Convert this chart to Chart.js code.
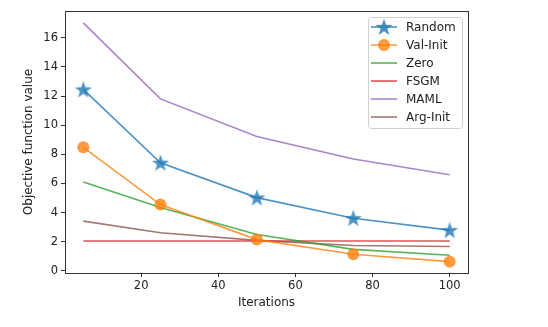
<!DOCTYPE html>
<html>
<head>
<meta charset="utf-8">
<script src="https://cdn.jsdelivr.net/npm/chart.js@4"></script>
<style>
  html, body { margin: 0; padding: 0; background: #fff; }
  #wrap { width: 548px; height: 327px; position: relative; }
</style>
</head>
<body>
<div id="wrap"><canvas id="chart"></canvas></div>
<script>
const iterations = [5, 25, 50, 75, 100];
const randomVals  = [12.45, 7.42, 5.03, 3.62, 2.8];
const valInitVals = [8.48, 4.55, 2.15, 1.15, 0.64];
const zeroVals    = [6.1, 4.35, 2.5, 1.48, 1.08];
const fsgmVals    = [2.05, 2.05, 2.05, 2.05, 2.05];
const mamlVals    = [17.02, 11.8, 9.22, 7.68, 6.6];
const argInitVals = [3.42, 2.62, 2.1, 1.75, 1.68];
const xTicks = [20, 40, 60, 80, 100];
const yTicks = [0, 2, 4, 6, 8, 10, 12, 14, 16];

const C = {
  blue:   'rgba(31,119,180,0.8)',
  orange: 'rgba(255,127,14,0.8)',
  green:  'rgba(44,160,44,0.8)',
  red:    'rgba(214,39,40,0.8)',
  purple: 'rgba(148,103,189,0.8)',
  brown:  'rgba(140,86,75,0.8)'
};

/* filled five-point star, like matplotlib's '*' */
function makeStar(r, color){
  const c = document.createElement('canvas');
  const s = Math.ceil(r * 2 + 2);
  c.width = s; c.height = s;
  const g = c.getContext('2d');
  g.beginPath();
  for (let i = 0; i < 10; i++){
    const rad = i % 2 ? r * 0.4 : r;
    const a = -Math.PI / 2 + i * Math.PI / 5;
    const px = s / 2 + rad * Math.cos(a), py = s / 2 + rad * Math.sin(a) + r * 0.08;
    i ? g.lineTo(px, py) : g.moveTo(px, py);
  }
  g.closePath();
  g.fillStyle = color; g.fill();
  return c;
}
const star = makeStar(9, C.blue);

function pts(vals){ return iterations.map((x, i) => ({ x, y: vals[i] })); }

function line(label, vals, color, extra){
  return Object.assign({
    label, data: pts(vals), borderColor: color, backgroundColor: color,
    borderWidth: 1.6, pointRadius: 0, pointHoverRadius: 0, tension: 0
  }, extra || {});
}

const datasets = [
  line('Random', randomVals, C.blue, { pointStyle: star, pointRadius: 9, pointBorderWidth: 0 }),
  line('Val-Init', valInitVals, C.orange, { pointStyle: 'circle', pointRadius: 6, pointBorderWidth: 0 }),
  line('Zero', zeroVals, C.green),
  line('FSGM', fsgmVals, C.red),
  line('MAML', mamlVals, C.purple),
  line('Arg-Init', argInitVals, C.brown)
];

/* ── frame + matplotlib-like legend ── */
const framePlugin = {
  id: 'frame',
  afterDraw(chart){
    const { ctx, chartArea: a } = chart;
    ctx.save();
    ctx.strokeStyle = '#333'; ctx.lineWidth = 1;
    ctx.strokeRect(Math.round(a.left) + 0.5, Math.round(a.top) + 0.5,
                   Math.round(a.right - a.left), Math.round(a.bottom - a.top));

    const lx = 368, ly = 17, lw = 94, lh = 111;
    ctx.fillStyle = 'rgba(255,255,255,0.85)';
    ctx.strokeStyle = '#d0d0d0';
    ctx.beginPath(); ctx.roundRect(lx + 0.5, ly + 0.5, lw, lh, 3); ctx.fill(); ctx.stroke();
    ctx.font = '12px "DejaVu Sans"';
    ctx.textBaseline = 'middle';
    datasets.forEach((d, i) => {
      const y = 27 + i * 18;
      ctx.strokeStyle = d.borderColor; ctx.lineWidth = 1.6;
      ctx.beginPath(); ctx.moveTo(371, y); ctx.lineTo(397, y); ctx.stroke();
      if (d.pointStyle === star) ctx.drawImage(star, 384 - star.width / 2, y - star.height / 2);
      else if (d.pointStyle === 'circle'){
        ctx.fillStyle = d.borderColor;
        ctx.beginPath(); ctx.arc(384, y, 6, 0, Math.PI * 2); ctx.fill();
      }
      ctx.fillStyle = '#222';
      ctx.fillText(d.label, 406, y + 1);
    });
    ctx.restore();
  }
};

const tickFont  = { family: 'DejaVu Sans', size: 11.5 };
const titleFont = { family: 'DejaVu Sans', size: 12 };

new Chart(document.getElementById('chart'), {
  type: 'line',
  data: { datasets },
  options: {
    responsive: true, maintainAspectRatio: false, animation: false,
    layout: { padding: { top: 11, right: 80, left: 18, bottom: 13 } },
    plugins: { legend: { display: false }, tooltip: { enabled: false } },
    scales: {
      x: {
        type: 'linear', min: 0.25, max: 104.75,
        afterBuildTicks: s => { s.ticks = xTicks.map(v => ({ value: v })); },
        afterFit: s => { s.height = 41; },
        ticks: { color: '#222', font: tickFont, padding: 2, maxRotation: 0 },
        grid: { drawOnChartArea: false, drawTicks: true, tickLength: 4, color: '#333' },
        border: { color: '#333' },
        title: { display: true, text: 'Iterations', color: '#222', font: titleFont, padding: { top: 2 } }
      },
      y: {
        type: 'linear', min: -0.14, max: 17.83,
        afterBuildTicks: s => { s.ticks = yTicks.map(v => ({ value: v })); },
        afterFit: s => { s.width = 47; },
        ticks: { color: '#222', font: tickFont, padding: 3 },
        grid: { drawOnChartArea: false, drawTicks: true, tickLength: 4, color: '#333' },
        border: { color: '#333' },
        title: { display: true, text: 'Objective function value', color: '#222', font: titleFont, padding: { bottom: 4 } }
      }
    }
  },
  plugins: [framePlugin]
});
</script>
</body>
</html>
